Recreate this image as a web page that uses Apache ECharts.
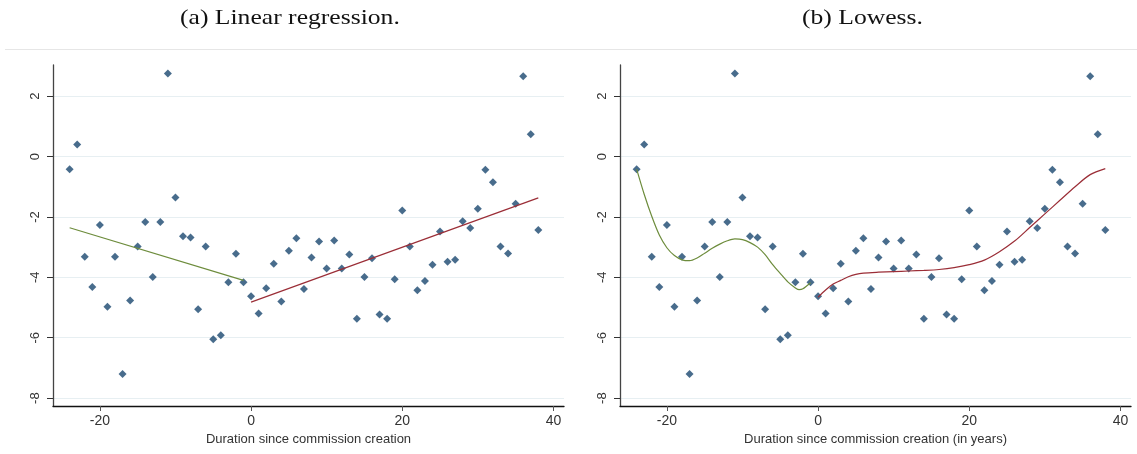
<!DOCTYPE html>
<html>
<head>
<meta charset="utf-8">
<script src="https://cdn.jsdelivr.net/npm/echarts@6/dist/echarts.min.js"></script>
<style>html,body{margin:0;padding:0;background:#fff;}#c{width:1137px;height:454px;}</style>
</head>
<body>
<div id="c"></div>
<script>
// Duration since commission creation (years)
const durations = [-24,-23,-22,-21,-20,-19,-18,-17,-16,-15,-14,-13,-12,-11,-10,-9,-8,-7,-6,-5,-4,-3,-2,-1,
  0,1,2,3,4,5,6,7,8,9,10,11,12,13,14,15,16,17,18,19,20,21,22,23,24,25,26,27,28,29,30,31,32,33,34,35,36,37,38];
const outcome = [-0.42,0.40,-3.32,-4.32,-2.27,-4.97,-3.32,-7.20,-4.77,-2.98,-2.17,-3.99,-2.17,2.75,-1.36,-2.64,-2.68,-5.06,-2.98,-6.05,-5.92,-4.16,-3.22,-4.16,
  -4.63,-5.20,-4.36,-3.55,-4.80,-3.12,-2.71,-4.39,-3.34,-2.81,-3.71,-2.78,-3.71,-3.24,-5.37,-3.99,-3.37,-5.23,-5.37,-4.06,-1.79,-2.98,-4.43,-4.12,-3.58,-2.48,-3.48,-3.42,-2.14,-2.37,-1.73,-0.44,-0.85,-2.98,-3.21,-1.56,2.66,0.74,-2.43];

// Linear fits (endpoints)
const linPreX = [-24, -1];
const linPreY = [-2.36, -4.10];
const linPostX = [0, 38];
const linPostY = [-4.82, -1.37];

// Lowess fits
const lowPreX = [-24,-23,-22,-21,-20,-19,-18,-17,-16,-15,-14,-13,-12,-11,-10,-9,-8,-7,-6,-5,-4,-3,-2.5,-2,-1];
const lowPreY = [-0.42,-1.25,-1.98,-2.6,-3.02,-3.28,-3.42,-3.45,-3.36,-3.2,-3.04,-2.9,-2.79,-2.73,-2.75,-2.85,-3.0,-3.25,-3.58,-3.87,-4.15,-4.35,-4.41,-4.38,-4.18];
const lowPostX = [0,1,2,3,4,5,6,8,10,12,14,16,18,20,22,24,26,28,30,32,34,36,38];
const lowPostY = [-4.66,-4.42,-4.22,-4.1,-3.98,-3.9,-3.86,-3.83,-3.81,-3.79,-3.77,-3.74,-3.68,-3.58,-3.43,-3.15,-2.8,-2.35,-1.9,-1.45,-1.0,-0.6,-0.40];

const xTicks = [-20, 0, 20, 40];
const yTicks = [-8, -6, -4, -2, 0, 2];

const pairs = (xs, ys) => xs.map((x, i) => [x, ys[i]]);
const pts = pairs(durations, outcome);

const chart = echarts.init(document.getElementById('c'), null, {renderer: 'canvas'});
const sans = 'Liberation Sans, Arial, sans-serif';

function xAxis(gridIndex, name) {
  return {
    type: 'value', gridIndex, min: -26.2, max: 41.4, interval: 20,
    name, nameLocation: 'middle', nameGap: 25,
    nameTextStyle: {fontFamily: sans, fontSize: 13, color: '#333'},
    axisLine: {show: true, onZero: false, lineStyle: {color: '#111', width: 1.3}},
    axisTick: {show: true, length: 5, lineStyle: {color: '#555'},
      customValues: xTicks},
    axisLabel: {fontFamily: sans, fontSize: 14, color: '#333', margin: 8,
      customValues: xTicks, formatter: v => String(v)},
    splitLine: {show: false}
  };
}
function yAxis(gridIndex) {
  return {
    type: 'value', gridIndex, min: -8.26, max: 3.03,
    axisLine: {show: true, onZero: false, lineStyle: {color: '#444', width: 1.3}},
    axisTick: {show: true, length: 6, lineStyle: {color: '#333'}, customValues: yTicks},
    axisLabel: {fontFamily: sans, fontSize: 13, color: '#333', rotate: 90, margin: 11,
      customValues: yTicks, formatter: v => String(v)},
    splitLine: {show: true, lineStyle: {color: '#e7eff2', width: 1}, customValues: yTicks}
  };
}

const scatterStyle = (xi) => ({
  type: 'scatter', xAxisIndex: xi, yAxisIndex: xi, data: pts,
  symbol: 'diamond', symbolSize: 8, itemStyle: {color: '#1a476f'}, silent: true, z: 2
});
const lineStyle = (xi, data, color, smooth) => ({
  type: 'line', xAxisIndex: xi, yAxisIndex: xi, data, showSymbol: false, symbol: 'none',
  smooth: smooth ? 0.3 : false, lineStyle: {color, width: 1.2}, silent: true, z: 3
});

const titleFont = '21px "Liberation Serif", "DejaVu Serif", serif';

chart.setOption({
  animation: false,
  backgroundColor: '#fff',
  grid: [
    {left: 53, right: 573, top: 65, bottom: 48},
    {left: 620, right: 6, top: 65, bottom: 48}
  ],
  xAxis: [xAxis(0, 'Duration since commission creation'), xAxis(1, 'Duration since commission creation (in years)')],
  yAxis: [yAxis(0), yAxis(1)],
  graphic: [
    {type: 'text', x: 180, y: 8, scaleX: 1.22, style: {text: '(a) Linear regression.', font: titleFont, fill: '#111'}},
    {type: 'text', x: 802, y: 8, scaleX: 1.22, style: {text: '(b) Lowess.', font: titleFont, fill: '#111'}},
    {type: 'line', shape: {x1: 5, y1: 49.5, x2: 1137, y2: 49.5}, style: {stroke: '#e6e6e6', lineWidth: 1}}
  ],
  series: [
    scatterStyle(0),
    lineStyle(0, pairs(linPreX, linPreY), '#6d8c3c', false),
    lineStyle(0, pairs(linPostX, linPostY), '#9b2e37', false),
    scatterStyle(1),
    lineStyle(1, pairs(lowPreX, lowPreY), '#6d8c3c', true),
    lineStyle(1, pairs(lowPostX, lowPostY), '#9b2e37', true)
  ]
});
</script>
</body>
</html>
